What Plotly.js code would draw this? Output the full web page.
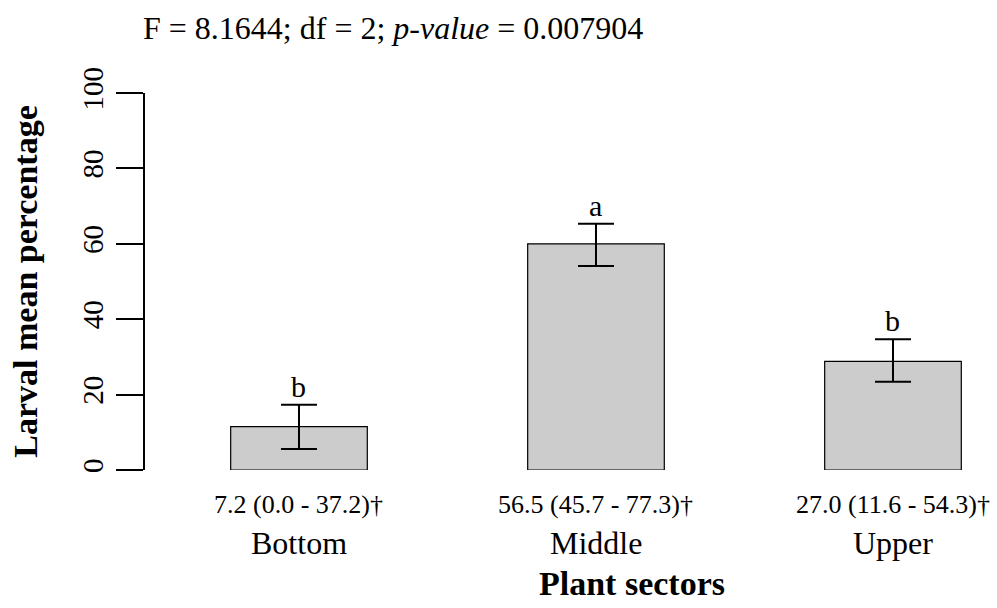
<!DOCTYPE html>
<html>
<head>
<meta charset="utf-8">
<script src="https://cdn.plot.ly/plotly-3.0.1.min.js"></script>
<style>html,body{margin:0;padding:0;background:#fff;}#chart{width:997px;height:608px;}</style>
</head>
<body>
<div id="chart"></div>
<script>
// Data
const categories = ["Bottom", "Middle", "Upper"];
const meanValues = [11.5, 60.0, 28.8];
const errUpper = [17.3, 65.3, 34.7];
const errLower = [5.6, 54.1, 23.4];
const groupLetters = ["b", "a", "b"];
const statLabels = ["7.2 (0.0 - 37.2)\u2020", "56.5 (45.7 - 77.3)\u2020", "27.0 (11.6 - 54.3)\u2020"];
const yTickVals = [0, 20, 40, 60, 80, 100];
const titleText = "F = 8.1644; df = 2; <i>p-value</i> = 0.007904";

const FONT = "Liberation Serif";
const xIdx = categories.map((_, i) => i);
const X_RANGE = [-0.5185, 2.2997];

const trace = {
  type: "bar",
  x: xIdx,
  y: meanValues,
  width: categories.map(() => 0.46),
  marker: { color: "#cccccc", line: { color: "#000000", width: 1.2 } },
  error_y: {
    type: "data",
    symmetric: false,
    array: meanValues.map((m, i) => errUpper[i] - m),
    arrayminus: meanValues.map((m, i) => m - errLower[i]),
    color: "#000000",
    thickness: 2,
    width: 18
  },
  hoverinfo: "skip"
};

const annotations = [];
categories.forEach((c, i) => {
  annotations.push({
    x: i, y: errUpper[i], xref: "x", yref: "y",
    text: groupLetters[i], showarrow: false,
    xanchor: "center", yanchor: "bottom", yshift: 0,
    font: { family: FONT, size: 30, color: "#000" }
  });
  annotations.push({
    x: i, y: 0, xref: "x", yref: "y",
    text: statLabels[i], showarrow: false,
    xanchor: "center", yanchor: "middle", yshift: -34,
    font: { family: FONT, size: 26, color: "#000" }
  });
  annotations.push({
    x: i, y: 0, xref: "x", yref: "y",
    text: c, showarrow: false,
    xanchor: "center", yanchor: "middle", yshift: -73,
    font: { family: FONT, size: 32, color: "#000" }
  });
});
// x-axis title placed below the category labels
annotations.push({
  x: 1.12, y: 0, xref: "x", yref: "y",
  text: "<b>Plant sectors</b>", showarrow: false,
  xanchor: "center", yanchor: "middle", yshift: -113,
  font: { family: FONT, size: 34, color: "#000" }
});

const layout = {
  width: 997, height: 608,
  margin: { l: 145, r: 15, t: 93, b: 138 },
  paper_bgcolor: "#ffffff", plot_bgcolor: "#ffffff",
  showlegend: false,
  title: {
    text: titleText,
    x: 143 / 997, xanchor: "left", xref: "container",
    y: 1 - 28 / 608, yanchor: "middle", yref: "container",
    font: { family: FONT, size: 32, color: "#000" }
  },
  xaxis: {
    range: X_RANGE,
    showline: false, showgrid: false, zeroline: false,
    showticklabels: false, ticks: "", fixedrange: true
  },
  yaxis: {
    range: [0, 100],
    tickvals: yTickVals,
    ticktext: yTickVals.map(String),
    tickangle: -90,
    ticks: "outside", ticklen: 27, tickwidth: 2, tickcolor: "#000",
    showline: true, linewidth: 2, linecolor: "#000",
    showgrid: false, zeroline: false,
    tickfont: { family: FONT, size: 29, color: "#000" },
    ticklabelstandoff: 1,
    title: {
      text: "<b>Larval mean percentage</b>",
      font: { family: FONT, size: 34, color: "#000" },
      standoff: 30
    },
    automargin: false
  },
  annotations: annotations
};

Plotly.newPlot("chart", [trace], layout, { displayModeBar: false, staticPlot: true });
</script>
</body>
</html>
